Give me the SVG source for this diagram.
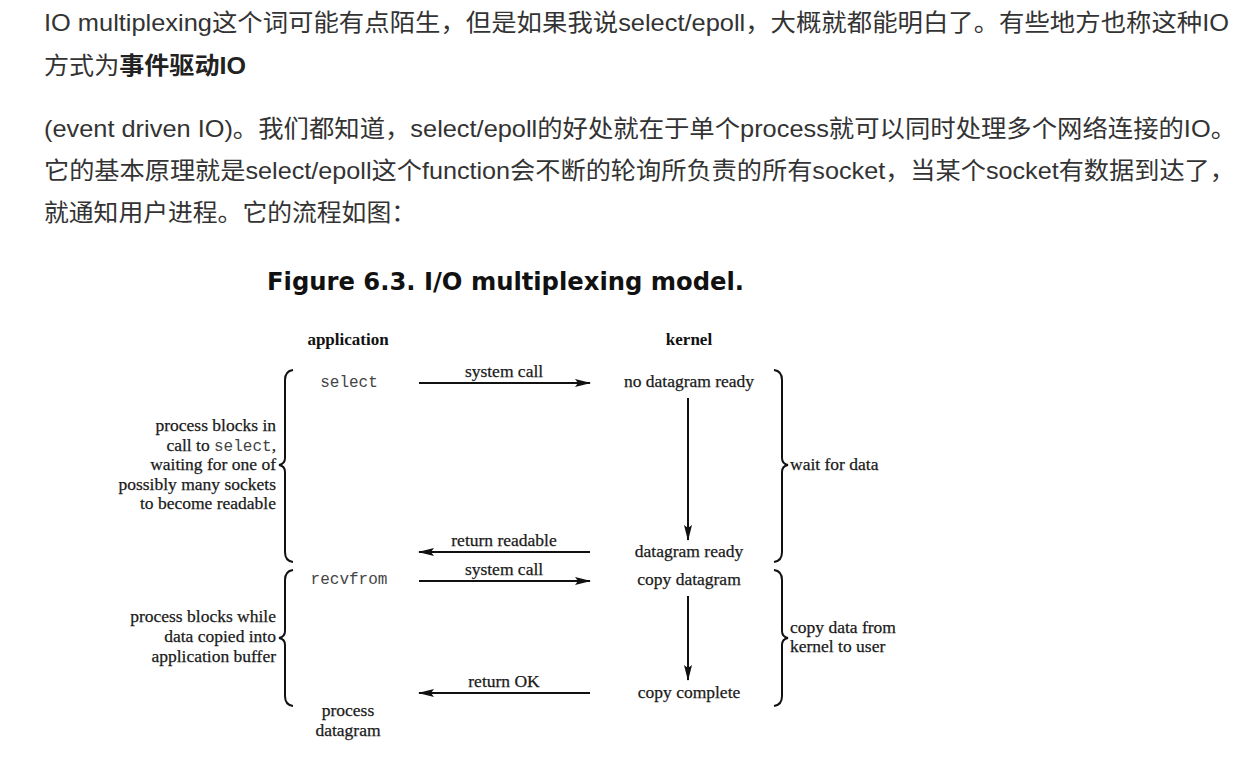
<svg xmlns="http://www.w3.org/2000/svg" width="1247" height="761" viewBox="0 0 1247 761">
<defs>
<style>
.p{font-family:"Liberation Sans","Noto Sans CJK SC",sans-serif;font-size:24px;fill:#333}
.b{font-weight:bold;fill:#222}
.s{font-family:"Liberation Serif",serif;font-size:17.5px;fill:#1a1a1a;stroke:#1a1a1a;stroke-width:0.25}
.sb{font-family:"Liberation Serif",serif;font-size:17px;font-weight:bold;fill:#111}
.m{font-family:"Liberation Mono",monospace;font-size:16px;fill:#444;stroke:none}
.c{text-anchor:middle}
.r{text-anchor:end}
.ln{stroke:#111;stroke-width:2;fill:none}
.br{stroke:#111;stroke-width:2;fill:none}
</style>
<marker id="ah" markerWidth="16" markerHeight="8" refX="15" refY="4" orient="auto" markerUnits="userSpaceOnUse">
<path d="M0,0 L16,4 L0,8 L3,4 Z" fill="#111"/>
</marker>
</defs>
<rect width="1247" height="761" fill="#fff"/>
<g id="paragraph">
<text class="p" x="44" y="31" textLength="1185" lengthAdjust="spacingAndGlyphs">IO multiplexing这个词可能有点陌生，但是如果我说select/epoll，大概就都能明白了。有些地方也称这种IO</text>
<text class="p" x="44" y="74" textLength="202" lengthAdjust="spacingAndGlyphs">方式为<tspan class="b">事件驱动IO</tspan></text>
<text class="p" x="44" y="137" textLength="1192" lengthAdjust="spacingAndGlyphs">(event driven IO)。我们都知道，select/epoll的好处就在于单个process就可以同时处理多个网络连接的IO。</text>
<text class="p" x="44" y="179" textLength="1191" lengthAdjust="spacingAndGlyphs">它的基本原理就是select/epoll这个function会不断的轮询所负责的所有socket，当某个socket有数据到达了，</text>
<text class="p" x="44" y="221" textLength="372" lengthAdjust="spacingAndGlyphs">就通知用户进程。它的流程如图：</text>
</g>
<g id="title">
<text x="267" y="290" font-family="DejaVu Sans, sans-serif" font-size="24" font-weight="bold" fill="#111" textLength="477" lengthAdjust="spacingAndGlyphs">Figure 6.3. I/O multiplexing model.</text>
</g>
<g id="headers">
<text class="sb c" x="348" y="345">application</text>
<text class="sb c" x="689" y="345">kernel</text>
</g>
<g id="app-select"><text class="m c" x="349" y="387">select</text></g>
<g id="k-nodata"><text class="s c" x="689" y="387">no datagram ready</text></g>
<g id="k-ready"><text class="s c" x="689" y="557">datagram ready</text></g>
<g id="app-recvfrom"><text class="m c" x="349" y="584">recvfrom</text></g>
<g id="k-copy"><text class="s c" x="689" y="585">copy datagram</text></g>
<g id="k-complete"><text class="s c" x="689" y="698">copy complete</text></g>
<g id="app-process"><text class="s c" x="348" y="716">process</text><text class="s c" x="348" y="736">datagram</text></g>
<g id="left-brace-1">
<path class="br" d="M293,370 Q285,371 285,380 L285,458 Q285,464 279,465 Q285,466 285,472 L285,552 Q285,561 293,562"/>
<text class="s r" x="276" y="431">process blocks in</text>
<text class="s r" x="276" y="451">call to <tspan class="m">select</tspan>,</text>
<text class="s r" x="276" y="470">waiting for one of</text>
<text class="s r" x="276" y="490">possibly many sockets</text>
<text class="s r" x="276" y="509">to become readable</text>
</g>
<g id="left-brace-2">
<path class="br" d="M293,570 Q285,571 285,580 L285,631 Q285,637 279,638 Q285,639 285,645 L285,696 Q285,705 293,706"/>
<text class="s r" x="276" y="622">process blocks while</text>
<text class="s r" x="276" y="642">data copied into</text>
<text class="s r" x="276" y="662">application buffer</text>
</g>
<g id="right-brace-1">
<path class="br" d="M774,370 Q782,371 782,380 L782,458 Q782,464 788,465 Q782,466 782,472 L782,552 Q782,561 774,562"/>
<text class="s" x="790" y="470">wait for data</text>
</g>
<g id="right-brace-2">
<path class="br" d="M774,570 Q782,571 782,580 L782,631 Q782,637 788,638 Q782,639 782,645 L782,696 Q782,705 774,706"/>
<text class="s" x="790" y="633">copy data from</text>
<text class="s" x="790" y="652">kernel to user</text>
</g>
<g id="connectors">
<line class="ln" x1="419" y1="383" x2="590" y2="383" marker-end="url(#ah)"/>
<text class="s c" x="504" y="377">system call</text>
<line class="ln" x1="688" y1="398" x2="688" y2="540" marker-end="url(#ah)"/>
<line class="ln" x1="590" y1="552" x2="419" y2="552" marker-end="url(#ah)"/>
<text class="s c" x="504" y="546">return readable</text>
<line class="ln" x1="419" y1="581" x2="590" y2="581" marker-end="url(#ah)"/>
<text class="s c" x="504" y="575">system call</text>
<line class="ln" x1="688" y1="596" x2="688" y2="680" marker-end="url(#ah)"/>
<line class="ln" x1="590" y1="693" x2="419" y2="693" marker-end="url(#ah)"/>
<text class="s c" x="504" y="687">return OK</text>
</g>
</svg>
